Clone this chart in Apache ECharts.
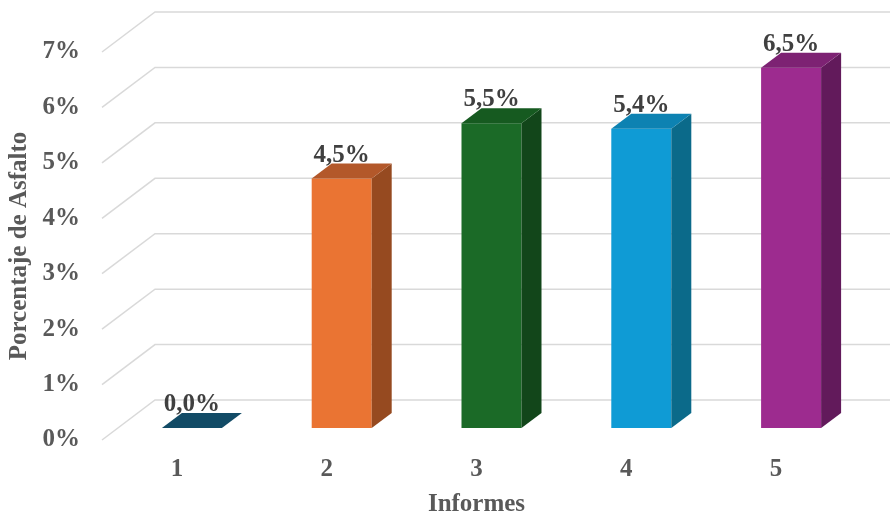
<!DOCTYPE html>
<html>
<head>
<meta charset="utf-8">
<script src="https://cdn.jsdelivr.net/npm/echarts@6/dist/echarts.min.js"></script>
<style>
  html, body { margin: 0; padding: 0; background: #ffffff; }
  #chart { width: 890px; height: 516px; }
</style>
</head>
<body>
<div id="chart"></div>
<script>
// Informes y porcentaje de asfalto
const categories = ['1', '2', '3', '4', '5'];
const asphaltPct = [0.0, 4.5, 5.5, 5.4, 6.5];
const yTicks = [0, 1, 2, 3, 4, 5, 6, 7];

// Face colours per bar: front, side, top
const palette = [
  { front: '#15557A', side: '#0D3A52', top: '#124B66' },
  { front: '#EA7433', side: '#964A20', top: '#B3582A' },
  { front: '#1B6A27', side: '#12461A', top: '#165A20' },
  { front: '#0F9BD5', side: '#0B6A8A', top: '#0D82B2' },
  { front: '#9D2B8F', side: '#621A5B', top: '#7D2273' }
];

const FONT = '"Liberation Serif", "Times New Roman", serif';
const FS = 25;
// 3D projection offsets (pixels)
const WALL_DX = 53, WALL_DY = -40;   // floor front edge -> back wall
const BAR_DX = 15, BAR_DY = -12;     // floor front edge -> bar front face
const DEPTH_DX = 20, DEPTH_DY = -15; // bar depth
const BAR_W = 60;

const fmtPct = v => v.toFixed(1).replace('.', ',') + '%';

const chart = echarts.init(document.getElementById('chart'), null, { renderer: 'canvas' });

const option = {
  backgroundColor: '#ffffff',
  animation: false,
  grid: { left: 102, right: 39, top: 52, bottom: 76, containLabel: false, outerBoundsMode: 'none' },
  xAxis: {
    type: 'category',
    data: categories,
    axisLine: { show: false },
    axisTick: { show: false },
    axisLabel: { color: '#595959', fontFamily: FONT, fontWeight: 'bold', fontSize: FS, margin: 17 },
    name: 'Informes',
    nameLocation: 'middle',
    nameGap: 52,
    nameTextStyle: { color: '#595959', fontFamily: FONT, fontWeight: 'bold', fontSize: FS }
  },
  yAxis: {
    type: 'value',
    min: 0,
    max: 7,
    interval: 1,
    axisLine: { show: false },
    axisTick: { show: false },
    splitLine: { show: false },
    axisLabel: {
      color: '#595959', fontFamily: FONT, fontWeight: 'bold', fontSize: FS, margin: 22,
      formatter: v => v + '%'
    },
    name: 'Porcentaje de Asfalto',
    nameLocation: 'middle',
    nameGap: 68,
    nameTextStyle: { color: '#595959', fontFamily: FONT, fontWeight: 'bold', fontSize: FS }
  },
  series: [
    {
      // floor/back-wall gridlines
      type: 'custom',
      silent: true,
      clip: false,
      data: yTicks,
      encode: { y: 0 },
      renderItem: function (params, api) {
        const v = api.value(0);
        const p = api.coord([0, v]);
        const half = api.size([1, 0])[0] / 2;
        const x0 = p[0] - half;
        const y0 = p[1];
        return {
          type: 'polyline',
          shape: { points: [[x0, y0], [x0 + WALL_DX, y0 + WALL_DY], [api.getWidth(), y0 + WALL_DY]] },
          style: { stroke: '#D9D9D9', lineWidth: 1.5, fill: null },
          z2: 0
        };
      }
    },
    {
      // 3D bars with value labels
      type: 'custom',
      clip: false,
      data: asphaltPct.map((v, i) => [i, v]),
      encode: { x: 0, y: 1 },
      renderItem: function (params, api) {
        const i = api.value(0);
        const v = api.value(1);
        const pTop = api.coord([i, v]);
        const pBase = api.coord([i, 0]);
        const cx = pTop[0] + BAR_DX;
        const top = pTop[1] + BAR_DY;
        const bottom = pBase[1] + BAR_DY;
        const xl = cx - BAR_W / 2;
        const xr = cx + BAR_W / 2;
        const c = palette[params.dataIndex];
        const children = [];
        if (bottom - top > 0.5) {
          children.push({
            type: 'rect',
            shape: { x: xl, y: top, width: BAR_W, height: bottom - top },
            style: { fill: c.front }
          });
          children.push({
            type: 'polygon',
            shape: { points: [[xr, top], [xr + DEPTH_DX, top + DEPTH_DY], [xr + DEPTH_DX, bottom + DEPTH_DY], [xr, bottom]] },
            style: { fill: c.side }
          });
        }
        children.push({
          type: 'polygon',
          shape: { points: [[xl, top], [xl + DEPTH_DX, top + DEPTH_DY], [xr + DEPTH_DX, top + DEPTH_DY], [xr, top]] },
          style: { fill: c.top }
        });
        children.push({
          type: 'text',
          x: cx,
          y: top + DEPTH_DY + 4,
          style: {
            text: fmtPct(v),
            fill: '#404040',
            font: 'bold ' + FS + 'px ' + FONT,
            align: 'center',
            verticalAlign: 'bottom'
          },
          z2: 10
        });
        return { type: 'group', children: children };
      }
    }
  ]
};

chart.setOption(option);
</script>
</body>
</html>
